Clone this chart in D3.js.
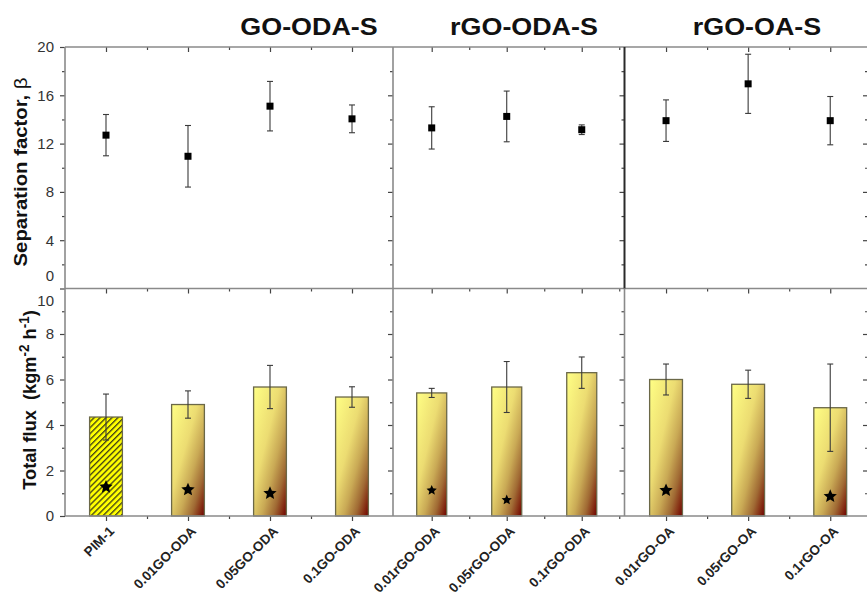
<!DOCTYPE html>
<html><head><meta charset="utf-8">
<script src="https://cdn.jsdelivr.net/npm/d3@7"></script>
<style>body{margin:0;background:#fff}svg{display:block}</style>
</head><body><svg id="c" width="867" height="596"></svg>
<script>
// ---------- data ----------
const groupTitles = ["GO-ODA-S", "rGO-ODA-S", "rGO-OA-S"];
const categoriesGO = ["PIM-1", "0.01GO-ODA", "0.05GO-ODA", "0.1GO-ODA"];
const categoriesRODA = ["0.01rGO-ODA", "0.05rGO-ODA", "0.1rGO-ODA"];
const categoriesROA = ["0.01rGO-OA", "0.05rGO-OA", "0.1rGO-OA"];
const categories = [categoriesGO, categoriesRODA, categoriesROA];

const sepFactor = [[12.7, 10.95, 15.1, 14.05], [13.3, 14.25, 13.15], [13.9, 16.95, 13.9]];
const sepError  = [[1.71, 2.55, 2.05, 1.15], [1.75, 2.1, 0.4], [1.72, 2.45, 2.0]];
const totalFlux = [[4.35, 4.9, 5.67, 5.23], [5.41, 5.67, 6.3], [6.0, 5.79, 4.76]];
const fluxError = [[1.01, 0.6, 0.95, 0.45], [0.2, 1.12, 0.69], [0.68, 0.62, 1.92]];
const starValue = [[1.32, 1.2, 1.04, null], [1.17, 0.75, null], [1.17, null, 0.91]];

const sepTicks = [0, 4, 8, 12, 16, 20];
const sepMinorTicks = [2, 6, 10, 14, 18];
const fluxTicks = [0, 2, 4, 6, 8, 10];
const fluxMinorTicks = [1, 3, 5, 7, 9];

// ---------- layout ----------
const svg = d3.select("#c");
const FONT = "'Liberation Sans', Arial, sans-serif";
const panelEdges = [65, 393, 624.5, 868];
const xDomains = [[0.5, 4.5], [0.484, 3.57], [0.494, 3.46]];
const titleX = [309, 524, 757];
const topY = 47, midY = 288.5, botY = 516;
const yTop = d3.scaleLinear().domain([0, 20]).range([midY, topY]);
const yBot = d3.scaleLinear().domain([0, 10]).range([botY, midY]);
const starR = [7, 5.4, 7];

// chunky 5-point star symbol
const starSymbol = {
  draw(ctx, size) {
    const R = Math.sqrt(size), r = R * 0.46;
    for (let k = 0; k < 10; k++) {
      const a = -Math.PI / 2 + k * Math.PI / 5, rr = k % 2 ? r : R;
      const px = rr * Math.cos(a), py = rr * Math.sin(a);
      if (k === 0) ctx.moveTo(px, py); else ctx.lineTo(px, py);
    }
    ctx.closePath();
  }
};

const defs = svg.append("defs");
const grad = defs.append("linearGradient").attr("id", "barGrad")
  .attr("x1", 0).attr("y1", 0).attr("x2", 1).attr("y2", 1);
[[0, "#ffff85"], [0.4, "#ecdc72"], [0.62, "#c9a955"], [0.8, "#a06a34"], [0.92, "#842a12"], [1, "#6e0000"]]
  .forEach(([o, c]) => grad.append("stop").attr("offset", o).attr("stop-color", c));
const pat = defs.append("pattern").attr("id", "hatch").attr("patternUnits", "userSpaceOnUse")
  .attr("width", 4.2).attr("height", 4.2).attr("patternTransform", "rotate(45)");
pat.append("rect").attr("width", 4.2).attr("height", 4.2).attr("fill", "#ffff00");
pat.append("line").attr("x1", 0.7).attr("y1", 0).attr("x2", 0.7).attr("y2", 4.2)
  .attr("stroke", "#1a1a1a").attr("stroke-width", 1.1);

function styleAxis(g) {
  g.select(".domain").remove();
  g.selectAll(".tick line").attr("stroke", "#444").attr("stroke-width", 1.2);
  g.selectAll(".tick text").attr("fill", "#333").attr("font-family", FONT).attr("font-size", 15);
}

categories.forEach((cats, p) => {
  const x0 = panelEdges[p], x1 = panelEdges[p + 1];
  const x = d3.scaleLinear().domain(xDomains[p]).range([x0, x1]);
  const idx = cats.map((c, i) => i + 1);
  const minorX = d3.range(1.5, cats.length + 0.6, 1).filter(v => x(v) < x1 - 2);
  const bw = x(1.2) - x(0.8);

  // title (horizontally stretched like the original)
  svg.append("text").attr("transform", `translate(${titleX[p]},35) scale(1.12,1)`)
    .attr("text-anchor", "middle").attr("font-family", FONT).attr("font-weight", "bold")
    .attr("font-size", 24).attr("fill", "#111").text(groupTitles[p]);

  // axes: top of each row (ticks inward)
  [topY, midY].forEach(yy => {
    svg.append("g").attr("transform", `translate(0,${yy})`)
      .call(d3.axisBottom(x).tickValues(idx).tickSize(5).tickFormat("")).call(styleAxis);
    svg.append("g").attr("transform", `translate(0,${yy})`)
      .call(d3.axisBottom(x).tickValues(minorX).tickSize(3).tickFormat("")).call(styleAxis);
  });
  // bottom axis (outward)
  svg.append("g").attr("transform", `translate(0,${botY})`)
    .call(d3.axisBottom(x).tickValues(idx).tickSize(5).tickFormat("")).call(styleAxis);
  svg.append("g").attr("transform", `translate(0,${botY})`)
    .call(d3.axisBottom(x).tickValues(minorX).tickSize(3).tickFormat("")).call(styleAxis);

  // right axis of each panel (ticks point inward)
  svg.append("g").attr("transform", `translate(${x1},0)`)
    .call(d3.axisLeft(yTop).tickValues(sepTicks.slice(1, -1)).tickSize(5).tickFormat("")).call(styleAxis);
  svg.append("g").attr("transform", `translate(${x1},0)`)
    .call(d3.axisLeft(yTop).tickValues(sepMinorTicks).tickSize(3).tickFormat("")).call(styleAxis);
  svg.append("g").attr("transform", `translate(${x1},0)`)
    .call(d3.axisLeft(yBot).tickValues(fluxTicks.slice(1, -1)).tickSize(5).tickFormat("")).call(styleAxis);
  svg.append("g").attr("transform", `translate(${x1},0)`)
    .call(d3.axisLeft(yBot).tickValues(fluxMinorTicks).tickSize(3).tickFormat("")).call(styleAxis);

  // x labels
  cats.forEach((c, i) => {
    svg.append("text").attr("transform", `translate(${x(i + 1) + 9},${botY + 16}) rotate(-45)`)
      .attr("text-anchor", "end").attr("font-family", FONT).attr("font-weight", "bold")
      .attr("font-size", 13.5).attr("fill", "#222").text(c);
  });

  // bars
  const g = svg.append("g");
  g.selectAll("rect.bar").data(totalFlux[p]).join("rect").attr("class", "bar")
    .attr("x", (d, i) => x(i + 1) - bw / 2).attr("width", bw)
    .attr("y", d => yBot(d)).attr("height", d => yBot(0) - yBot(d))
    .attr("fill", (d, i) => (p === 0 && i === 0) ? "url(#hatch)" : "url(#barGrad)")
    .attr("stroke", "#6b6848").attr("stroke-width", 1.3);

  // flux error bars
  totalFlux[p].forEach((v, i) => {
    const cx = x(i + 1), e = fluxError[p][i];
    const eg = g.append("g").attr("stroke", "#3a3a3a").attr("stroke-width", 1.1);
    eg.append("line").attr("x1", cx).attr("x2", cx).attr("y1", yBot(v + e)).attr("y2", yBot(v - e));
    [v + e, v - e].forEach(t => eg.append("line").attr("x1", cx - 3).attr("x2", cx + 3).attr("y1", yBot(t)).attr("y2", yBot(t)));
  });

  // stars
  starValue[p].forEach((s, i) => {
    if (s == null) return;
    const r = starR[p];
    svg.append("path").attr("d", d3.symbol(starSymbol, r * r).call())
      .attr("transform", `translate(${x(i + 1)},${yBot(s) + 1})`).attr("fill", "#000");
  });

  // separation factor points
  sepFactor[p].forEach((v, i) => {
    const cx = x(i + 1), e = sepError[p][i];
    const eg = svg.append("g").attr("stroke", "#3a3a3a").attr("stroke-width", 1.1);
    eg.append("line").attr("x1", cx).attr("x2", cx).attr("y1", yTop(v + e)).attr("y2", yTop(v - e));
    [v + e, v - e].forEach(t => eg.append("line").attr("x1", cx - 3).attr("x2", cx + 3).attr("y1", yTop(t)).attr("y2", yTop(t)));
    svg.append("rect").attr("x", cx - 3.5).attr("y", yTop(v) - 3.5).attr("width", 7).attr("height", 7).attr("fill", "#000");
  });
});

// left axes with labels
const la = svg.append("g").attr("transform", `translate(${panelEdges[0]},0)`)
  .call(d3.axisLeft(yTop).tickValues(sepTicks).tickSize(5).tickPadding(6)).call(styleAxis);
la.selectAll(".tick").filter(d => d === 0).select("text").attr("dy", "-0.55em");
la.selectAll(".tick").filter(d => d === 0).select("line").remove();
svg.append("g").attr("transform", `translate(${panelEdges[0]},0)`)
  .call(d3.axisLeft(yTop).tickValues(sepMinorTicks).tickSize(3).tickFormat("")).call(styleAxis);
const lb = svg.append("g").attr("transform", `translate(${panelEdges[0]},0)`)
  .call(d3.axisLeft(yBot).tickValues(fluxTicks).tickSize(5).tickPadding(6)).call(styleAxis);
lb.selectAll(".tick").filter(d => d === 10).select("text").attr("dy", "1.1em");
svg.append("g").attr("transform", `translate(${panelEdges[0]},0)`)
  .call(d3.axisLeft(yBot).tickValues(fluxMinorTicks).tickSize(3).tickFormat("")).call(styleAxis);

// frame lines
const frame = svg.append("g").attr("fill", "none");
[topY, midY, botY].forEach(yy => frame.append("line").attr("x1", panelEdges[0]).attr("x2", 868)
  .attr("y1", yy).attr("y2", yy).attr("stroke", "#8a8a8a").attr("stroke-width", 1.6));
[panelEdges[0], panelEdges[1]].forEach(xx => frame.append("line").attr("x1", xx).attr("x2", xx)
  .attr("y1", topY).attr("y2", botY).attr("stroke", "#8a8a8a").attr("stroke-width", 1.6));
frame.append("line").attr("x1", panelEdges[2]).attr("x2", panelEdges[2]).attr("y1", topY).attr("y2", midY)
  .attr("stroke", "#2a2a2a").attr("stroke-width", 2);
frame.append("line").attr("x1", panelEdges[2]).attr("x2", panelEdges[2]).attr("y1", midY).attr("y2", botY)
  .attr("stroke", "#8a8a8a").attr("stroke-width", 1.6);

// y titles
const t1 = svg.append("text").attr("transform", `translate(27,172) rotate(-90) scale(1.07,1)`).attr("text-anchor", "middle")
  .attr("font-family", FONT).attr("font-weight", "bold").attr("font-size", 19).attr("fill", "#111");
t1.append("tspan").text("Separation factor, ");
t1.append("tspan").attr("font-weight", "normal").text("β");
const t2 = svg.append("text").attr("transform", `translate(36,400) rotate(-90) scale(0.96,1)`).attr("text-anchor", "middle")
  .attr("font-family", FONT).attr("font-weight", "bold").attr("font-size", 19).attr("fill", "#111");
t2.append("tspan").text("Total flux\u00a0 (kgm");
t2.append("tspan").attr("dy", -7).attr("font-size", 14).text("-2");
t2.append("tspan").attr("dy", 7).text("\u00a0h");
t2.append("tspan").attr("dy", -7).attr("font-size", 14).text("-1");
t2.append("tspan").attr("dy", 7).text(")");
</script></body></html>
